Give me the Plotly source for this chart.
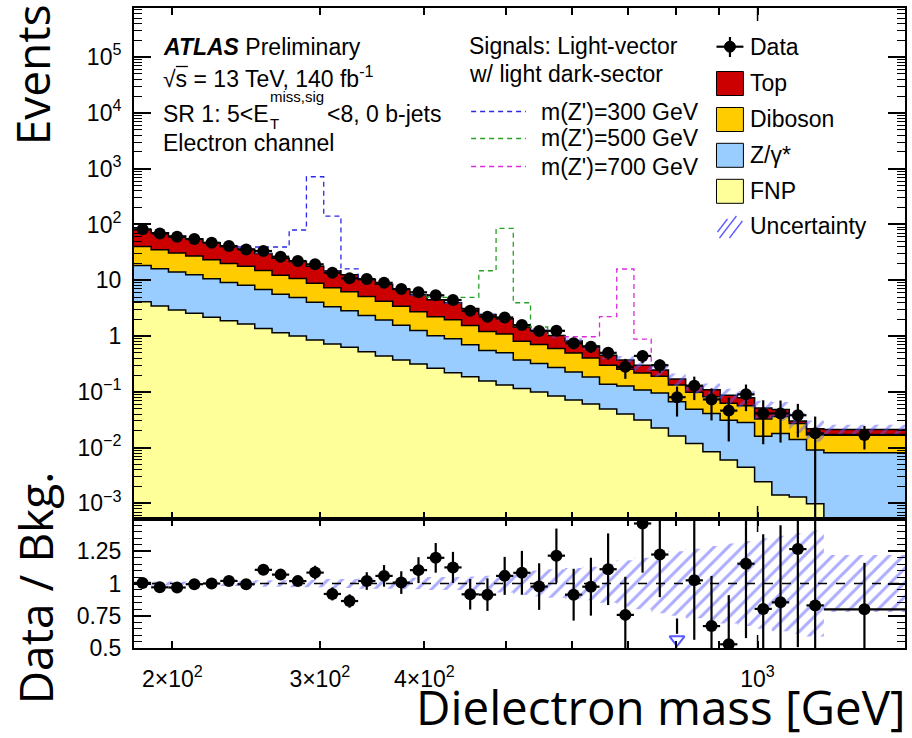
import plotly.graph_objects as go
import math

# ---------------- data ----------------
edges = [180, 188.7, 197.9, 207.5, 217.6, 228.2, 239.3, 250.9, 263.1, 275.8,
         289.2, 303.3, 318.0, 333.4, 349.6, 366.6, 384.4, 403.0, 422.6, 443.1,
         464.6, 487.2, 510.8, 535.6, 561.6, 588.9, 617.5, 647.5, 678.9, 711.8,
         746.4, 782.6, 820.6, 860.4, 902.2, 946.0, 991.9, 1040, 1091, 1144,
         1200, 1500]

data = [81.7, 69, 60, 54.7, 47, 41, 35.7, 33.4, 26.4, 22.1,
        19.3, 13.6, 10.8, 10.5, 9.0, 6.95, 6.07, 5.36, 4.42, 2.84,
        2.22, 2.15, 1.57, 1.23, 1.24, 0.74, 0.644, 0.50, 0.28, 0.44,
        0.30, 0.080, 0.129, 0.073, 0.046, 0.090, 0.041, 0.041, 0.038, 0.018,
        0.0168]
data_relerr = [0.02, 0.02, 0.025, 0.025, 0.03, 0.03, 0.03, 0.035, 0.035, 0.04,
               0.049, 0.055, 0.06, 0.067, 0.079, 0.087, 0.091, 0.096, 0.107, 0.129,
               0.138, 0.139, 0.157, 0.185, 0.173, 0.22, 0.23, 0.25, 0.39, 0.26,
               0.27, 0.55, 0.45, 0.58, 0.72, 0.5, 0.72, 0.7, 0.6, 1.0,
               0.45]
top = [41.0, 35.8, 31.2, 27.7, 23.7, 20.3, 18.1, 15.2, 12.45, 10.94,
       8.97, 7.46, 6.3, 5.19, 4.28, 3.48, 2.77, 2.25, 1.98, 1.56,
       1.22, 0.94, 0.64, 0.553, 0.423, 0.316, 0.257, 0.152, 0.115, 0.084,
       0.054, 0.037, 0.028, 0.027, 0.0244, 0.022, 0.0186, 0.012, 0.003, 0.0048,
       0.0039]
diboson = [21.9, 19.2, 16.7, 14.8, 12.7, 10.8, 9.67, 8.16, 6.66, 5.85,
           4.8, 3.99, 3.37, 2.78, 2.29, 1.86, 1.48, 1.21, 1.06, 0.84,
           0.66, 0.59, 0.44, 0.384, 0.325, 0.268, 0.219, 0.162, 0.128, 0.109,
           0.096, 0.067, 0.049, 0.041, 0.0316, 0.028, 0.0164, 0.0182, 0.013, 0.0078,
           0.009]
zgamma = [14.3, 12.65, 11.1, 9.95, 8.44, 7.22, 6.49, 5.47, 4.44, 3.91,
          3.18, 2.63, 2.2, 1.81, 1.49, 1.19, 0.935, 0.746, 0.67, 0.514,
          0.394, 0.368, 0.255, 0.224, 0.188, 0.155, 0.124, 0.087, 0.087, 0.076,
          0.0725, 0.050, 0.037, 0.0325, 0.025, 0.0236, 0.0136, 0.0164, 0.0127, 0.0081,
          0.0081]
fnp = [4.12, 3.45, 2.92, 2.55, 2.16, 1.88, 1.64, 1.37, 1.15, 1.0,
       0.848, 0.719, 0.627, 0.523, 0.438, 0.371, 0.315, 0.264, 0.220, 0.186,
       0.156, 0.132, 0.115, 0.099, 0.084, 0.0713, 0.0604, 0.0492, 0.040, 0.0313,
       0.0225, 0.0161, 0.0119, 0.00845, 0.0060, 0.00443, 0.00245, 0.00142, 0.0013, 0.00098,
       0.0]
unc_rel = [0.015, 0.015, 0.015, 0.015, 0.02, 0.02, 0.02, 0.025, 0.025, 0.03,
           0.03, 0.035, 0.035, 0.04, 0.04, 0.045, 0.045, 0.05, 0.05, 0.055,
           0.06, 0.07, 0.09, 0.10, 0.11, 0.12, 0.13, 0.15, 0.18, 0.20,
           0.23, 0.25, 0.27, 0.29, 0.31, 0.33, 0.35, 0.37, 0.39, 0.41,
           0.22]

# signal + background lines (first bin index, heights)
sig300_first = 6
sig300_line = [39.4, 39.4, 39.4, 79.5, 716, 141, 16.0]
sig500_first = 17
sig500_line = [4.94, 4.94, 4.94, 14.8, 85, 3.95, 1.45]
sig700_first = 25
sig700_line = [0.97, 0.97, 2.22, 15.9, 0.88]

xticks = [200, 300, 400, 500, 600, 700, 800, 900, 1000]
xticklabels = ["2×10<sup>2</sup>", "3×10<sup>2</sup>", "4×10<sup>2</sup>", "", "", "", "", "", "10<sup>3</sup>"]
yticks = [1e-3, 1e-2, 1e-1, 1, 10, 100, 1e3, 1e4, 1e5]
yticklabels = ["10<sup>−3</sup>", "10<sup>−2</sup>", "10<sup>−1</sup>", "1", "10",
               "10<sup>2</sup>", "10<sup>3</sup>", "10<sup>4</sup>", "10<sup>5</sup>"]
rticks = [0.5, 0.75, 1, 1.25]
rticklabels = ["0.5", "0.75", "1", "1.25"]

# ---------------- colours / geometry ----------------
C_TOP = "rgb(204,0,0)"
C_DIB = "rgb(255,204,0)"
C_Z = "rgb(153,204,255)"
C_FNP = "rgb(255,255,153)"
C_HATCH = "rgb(90,90,255)"
C_S300 = "rgb(40,40,230)"
C_S500 = "rgb(40,160,40)"
C_S700 = "rgb(220,40,220)"
FONT = "Liberation Sans"
TFONT = "Open Sans"
FS = 23

W, H = 912, 738
L, R, T, B = 134, 5, 8, 90
PW, PH = W - L - R, H - T - B
SPLIT = 519


def X(px):
    return (px - L) / PW


def Y(py):
    return (H - B - py) / PH


n = len(data)
lo = edges[:-1]
hi = edges[1:]
cen = [math.sqrt(a * b) for a, b in zip(lo, hi)]

c1 = [max(v, 1e-9) for v in fnp]
c2 = [a + b for a, b in zip(fnp, zgamma)]
c3 = [a + b for a, b in zip(c2, diboson)]
c4 = [a + b for a, b in zip(c3, top)]
total = c4


def st(v):
    return list(v) + [v[-1]]


fig = go.Figure()
outline = dict(color="black", width=1.5, shape="hv")
fig.add_trace(go.Scatter(x=edges, y=st([1e-9] * n), mode="lines",
                         line=dict(width=0, shape="hv"), showlegend=False, hoverinfo="skip"))
for vals, col in [(c1, C_FNP), (c2, C_Z), (c3, C_DIB), (c4, C_TOP)]:
    fig.add_trace(go.Scatter(x=edges, y=st(vals), mode="lines", line=outline,
                             fill="tonexty", fillcolor=col, showlegend=False, hoverinfo="skip"))

# uncertainty band (top panel)
up = [t * (1 + u) for t, u in zip(total, unc_rel)]
dn = [t * (1 - u) for t, u in zip(total, unc_rel)]
hatch = dict(shape="/", fgcolor=C_HATCH, bgcolor="rgba(0,0,0,0)", size=10, solidity=0.3, fillmode="overlay")
fig.add_trace(go.Scatter(x=edges, y=st(dn), mode="lines", line=dict(width=0, shape="hv"),
                         showlegend=False, hoverinfo="skip"))
fig.add_trace(go.Scatter(x=edges, y=st(up), mode="lines", line=dict(width=0, shape="hv"),
                         fill="tonexty", fillcolor="rgba(0,0,0,0)", fillpattern=hatch,
                         showlegend=False, hoverinfo="skip"))

# signals (stacked on top of the total background)
for first, line, col in [(sig300_first, sig300_line, C_S300),
                          (sig500_first, sig500_line, C_S500),
                          (sig700_first, sig700_line, C_S700)]:
    last = first + len(line) - 1
    px_, py_ = [edges[first]], [total[first - 1]]
    for i, v in enumerate(line):
        px_.append(edges[first + i])
        py_.append(v)
    px_.append(edges[last + 1])
    py_.append(total[last + 1])
    fig.add_trace(go.Scatter(x=px_, y=py_, mode="lines",
                             line=dict(color=col, width=1.3, dash="5px,4px", shape="hv"),
                             showlegend=False, hoverinfo="skip"))

# data
err = [d * r for d, r in zip(data, data_relerr)]
err_dn = [min(e, 0.98 * d) for e, d in zip(err, data)]
fig.add_trace(go.Scatter(
    x=cen, y=data, mode="markers", marker=dict(color="black", size=12),
    error_y=dict(type="data", array=err, arrayminus=err_dn, color="black", thickness=2.2, width=0),
    error_x=dict(type="data", array=[h - c for h, c in zip(hi, cen)],
                 arrayminus=[c - l for c, l in zip(cen, lo)], color="black", thickness=2.2, width=0),
    showlegend=False, hoverinfo="skip"))

# ---------------- ratio panel ----------------
rup = [1 + u for u in unc_rel]
rdn = [1 - u for u in unc_rel]
fig.add_trace(go.Scatter(x=edges, y=st(rdn), xaxis="x2", yaxis="y2", mode="lines",
                         line=dict(width=0, shape="hv"), showlegend=False, hoverinfo="skip"))
fig.add_trace(go.Scatter(x=edges, y=st(rup), xaxis="x2", yaxis="y2", mode="lines",
                         line=dict(width=0, shape="hv"), fill="tonexty", fillcolor="rgba(0,0,0,0)",
                         fillpattern=hatch, showlegend=False, hoverinfo="skip"))

ratio = [d / t for d, t in zip(data, total)]
rerr = [e / t for e, t in zip(err, total)]
ok = [i for i in range(n) if ratio[i] >= 0.5]
low = [i for i in range(n) if ratio[i] < 0.5]
fig.add_trace(go.Scatter(
    x=[cen[i] for i in ok], y=[ratio[i] for i in ok], xaxis="x2", yaxis="y2", mode="markers",
    marker=dict(color="black", size=12),
    error_y=dict(type="data", array=[rerr[i] for i in ok], color="black", thickness=2.2, width=0),
    error_x=dict(type="data", array=[hi[i] - cen[i] for i in ok],
                 arrayminus=[cen[i] - lo[i] for i in ok], color="black", thickness=2.2, width=0),
    showlegend=False, hoverinfo="skip"))
for i in low:
    fig.add_trace(go.Scatter(x=[cen[i], cen[i]], y=[0.61, ratio[i] + rerr[i]], xaxis="x2", yaxis="y2",
                             mode="lines", line=dict(color="black", width=2.2),
                             showlegend=False, hoverinfo="skip"))
    fig.add_trace(go.Scatter(x=[cen[i]], y=[0.565], xaxis="x2", yaxis="y2", mode="markers",
                             marker=dict(symbol="triangle-down-open", size=13, color=C_HATCH,
                                         line=dict(width=2, color=C_HATCH)),
                             showlegend=False, hoverinfo="skip"))

# ---------------- layout ----------------
ydom = Y(SPLIT)
minor_y = [m * 10 ** e for e in range(-4, 6) for m in range(2, 10)]
axis_common = dict(showgrid=False, zeroline=False, linecolor="black", linewidth=2,
                   ticks="inside", tickcolor="black", tickwidth=1.5, mirror="allticks",
                   tickfont=dict(family=FONT, size=FS, color="black"))
fig.update_layout(
    width=W, height=H, margin=dict(l=L, r=R, t=T, b=B),
    paper_bgcolor="white", plot_bgcolor="white", showlegend=False,
    xaxis=dict(axis_common, type="log", range=[math.log10(180), math.log10(1500)], anchor="y",
               domain=[0, 1], tickvals=xticks, ticktext=[""] * len(xticks), ticklen=7,
               showticklabels=False),
    yaxis=dict(axis_common, type="log", range=[-3.28, 5.88], anchor="x", domain=[ydom, 1],
               tickvals=yticks, ticktext=yticklabels, ticklen=17,
               minor=dict(tickvals=minor_y, ticks="inside", ticklen=8, tickcolor="black", tickwidth=1.2),
               ticklabelstandoff=6),
    xaxis2=dict(axis_common, type="log", range=[math.log10(180), math.log10(1500)], anchor="y2",
                matches="x", domain=[0, 1], tickvals=xticks, ticktext=xticklabels, ticklen=7,
                ticklabelstandoff=9),
    yaxis2=dict(axis_common, range=[0.5, 1.5], anchor="x2", domain=[0, ydom],
                tickvals=rticks, ticktext=rticklabels, ticklen=17,
                minor=dict(dtick=0.05, ticks="inside", ticklen=8, tickcolor="black", tickwidth=1.2),
                ticklabelstandoff=6),
)

shapes = []
annos = []
# ratio = 1 dashed line
shapes.append(dict(type="line", xref="paper", yref="y2", x0=0, x1=1, y0=1, y1=1,
                   line=dict(color="black", width=1.3, dash="dash")))
# longer decade tick at 10^3
xk = (math.log10(1000) - math.log10(180)) / (math.log10(1500) - math.log10(180))
for (y0, y1) in [(8, 21), (519, 506), (519, 532), (648, 635)]:
    shapes.append(dict(type="line", xref="paper", yref="paper", x0=xk, x1=xk, y0=Y(y0), y1=Y(y1),
                       line=dict(color="black", width=1.5)))


def txt(px, py, s, size=FS, anchor="left", family=FONT, **kw):
    annos.append(dict(x=X(px), y=Y(py), xref="paper", yref="paper", text=s, showarrow=False,
                      xanchor=anchor, yanchor="middle",
                      font=dict(family=family, size=size, color="black"), **kw))


# ATLAS labels
txt(161, 46.5, "<b><i>ATLAS</i></b> Preliminary")
txt(161, 77, "√s = 13 TeV, 140 fb<sup>-1</sup>")
shapes.append(dict(type="line", xref="paper", yref="paper", x0=X(176), x1=X(188), y0=Y(66.5), y1=Y(66.5),
                   line=dict(color="black", width=1.3)))
txt(161, 114, "SR 1: 5&lt;E")
txt(268, 123, "T", 15)
txt(268, 97, "miss,sig", 15)
txt(325, 114, "&lt;8, 0 b-jets")
txt(161, 142.5, "Electron channel")

# signals legend
txt(468, 46, "Signals: Light-vector")
txt(468, 74, "w/ light dark-sector")
for yy, lab, col in [(111.5, "m(Z')=300 GeV", C_S300),
                     (138.5, "m(Z')=500 GeV", C_S500),
                     (166.5, "m(Z')=700 GeV", C_S700)]:
    shapes.append(dict(type="line", xref="paper", yref="paper", x0=X(472), x1=X(527), y0=Y(yy), y1=Y(yy),
                       line=dict(color=col, width=1.3, dash="5px,4px")))
    txt(540, yy, lab)

# background legend
bx0, bx1 = 718, 745
txt(750, 46.7, "Data")
shapes.append(dict(type="line", xref="paper", yref="paper", x0=X(bx0), x1=X(bx1), y0=Y(46.7), y1=Y(46.7),
                   line=dict(color="black", width=2.2)))
shapes.append(dict(type="line", xref="paper", yref="paper", x0=X(731.5), x1=X(731.5), y0=Y(37), y1=Y(57),
                   line=dict(color="black", width=2.2)))
shapes.append(dict(type="circle", xref="paper", yref="paper", x0=X(726), x1=X(737), y0=Y(52.2), y1=Y(41.2),
                   fillcolor="black", line=dict(color="black", width=1)))
for yc, lab, col in [(83.5, "Top", C_TOP), (119.5, "Diboson", C_DIB), (155.3, "Z/γ*", C_Z), (191.3, "FNP", C_FNP)]:
    shapes.append(dict(type="rect", xref="paper", yref="paper", x0=X(bx0), x1=X(bx1),
                       y0=Y(yc + 12), y1=Y(yc - 12), fillcolor=col, line=dict(color="black", width=1)))
    txt(750, yc, lab)
for (a, b, c, d) in [(719, 232, 729, 219), (721, 238, 738, 216), (731, 238, 744, 221)]:
    shapes.append(dict(type="line", xref="paper", yref="paper", x0=X(a), y0=Y(b), x1=X(c), y1=Y(d),
                       line=dict(color=C_HATCH, width=1.3)))
txt(750, 226, "Uncertainty")

# axis titles
txt(32, 75, "Events", 46, anchor="center", family=TFONT, textangle=-90)
txt(35, 588, "Data / Bkg.", 46, anchor="center", family=TFONT, textangle=-90)
txt(910, 706, "Dielectron mass [GeV]", 47.5, anchor="right", family=TFONT)

fig.update_layout(shapes=shapes, annotations=annos)
fig.write_html("out.html", config={"displayModeBar": False},
               post_script="document.body.style.margin='0px';document.body.style.padding='0px';")
